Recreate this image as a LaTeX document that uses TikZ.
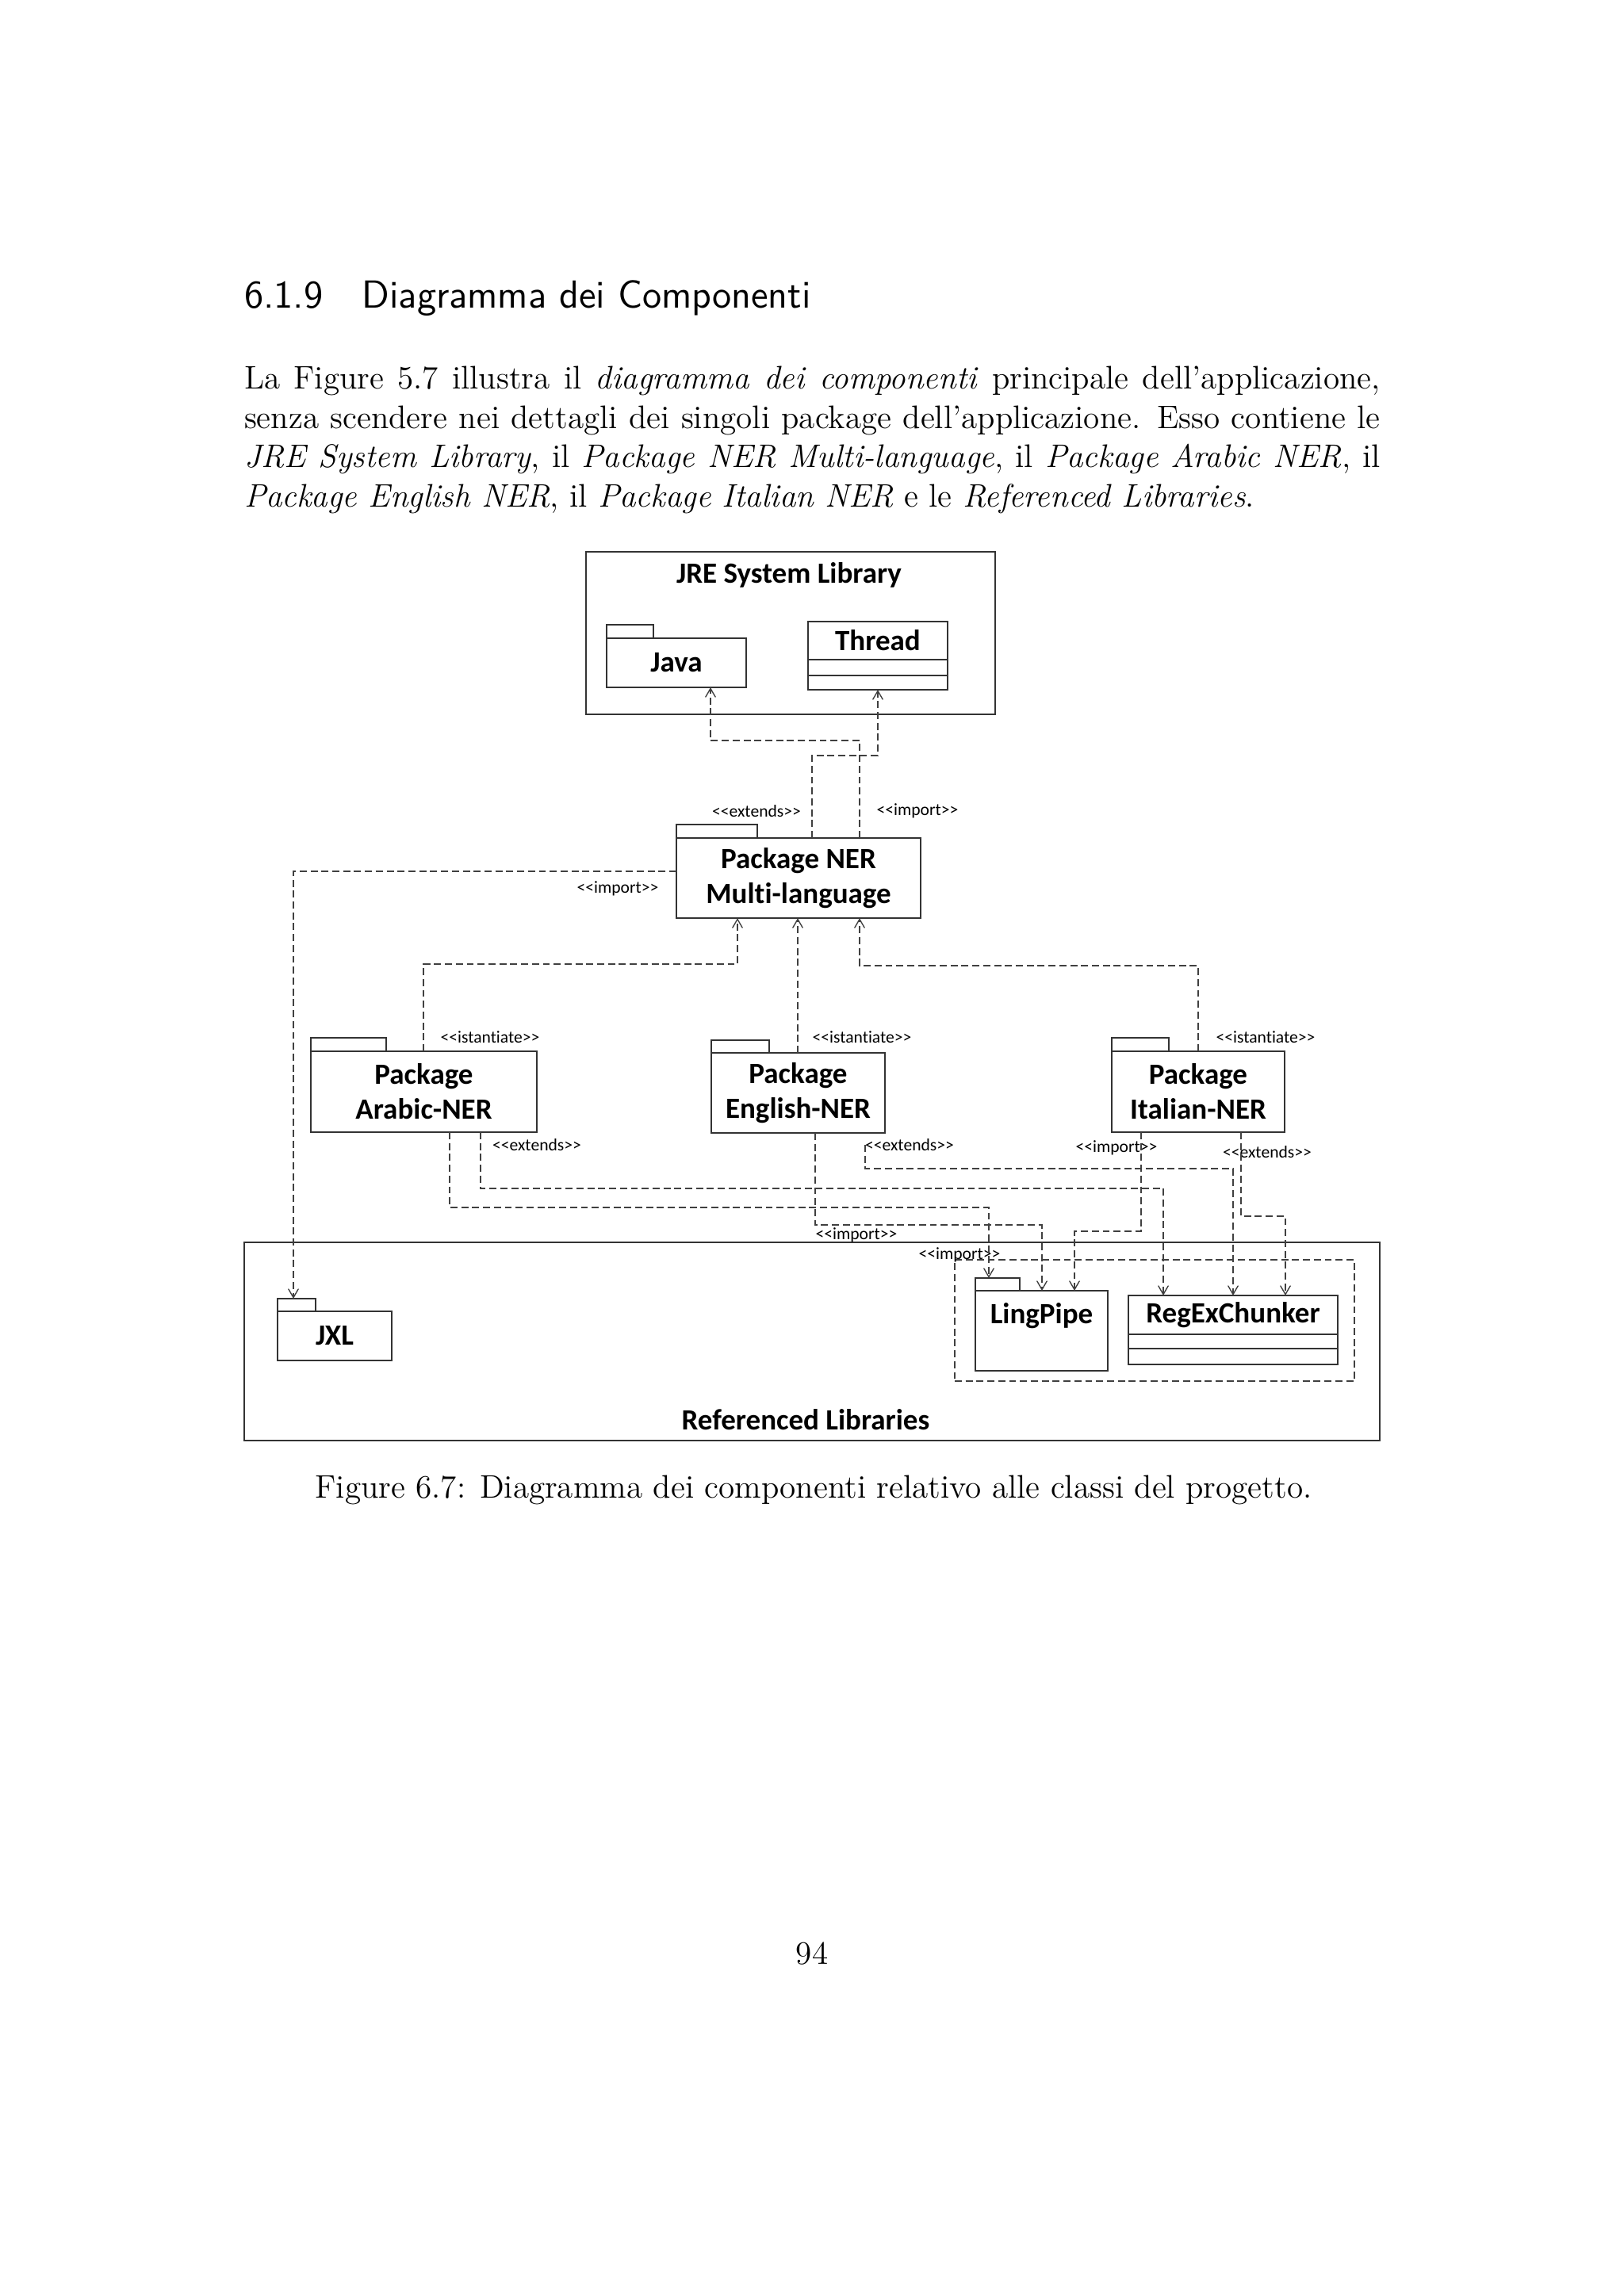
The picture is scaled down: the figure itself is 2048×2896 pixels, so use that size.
\documentclass[tikz,border=0pt]{standalone}
\usepackage{fontspec}
\newfontfamily\diafont{Carlito}[Ligatures=NoCommon]
\usetikzlibrary{positioning,shapes,arrows}
\newcommand{\pxu}{0.10254mm}
\newcommand{\stype}[1]{<\kern0pt<#1>\kern0pt>}

\begin{document}
\begin{tikzpicture}[x=0.10254mm, y=-0.10254mm,
  every node/.style = {outer sep=0pt},
  pkgbox/.style = {draw=black!80, line width=0.6pt, inner sep=0pt, align=center,
                   font=\diafont\bfseries\fontsize{10.8}{12.8}\selectfont},
  tabbox/.style = {draw=black!80, line width=0.6pt, inner sep=0pt, anchor=south west, minimum height=17*\pxu},
  libbox/.style = {draw=black!80, line width=0.6pt, inner sep=0pt},
  stereo/.style = {inner sep=0pt, font=\diafont\fontsize{6.3}{7}\selectfont},
  dep/.style = {draw=black!75, line width=0.4pt, dash pattern=on 2.6pt off 1.4pt, ->, >=angle 60},
  pagetext/.style = {inner sep=0pt, font=\fontsize{12}{14.5}\selectfont}]
\fill[white] (0,0) rectangle (2048,2896);
\useasboundingbox (0,0) rectangle (2048,2896);

% page text
\node[anchor=base west, inner sep=0pt, font=\sffamily\fontsize{14.4}{18}\selectfont] (heading) at (308,388) {6.1.9\quad Diagramma dei Componenti};
\node[pagetext, anchor=north west, text width=418pt, align=justify] (intro) at (308,462)
  {\noindent La Figure 5.7 illustra il \textit{diagramma dei componenti} principale dell'applicazione, senza scendere nei dettagli dei singoli package dell'applicazione. Esso contiene le \textit{JRE System Library}, il \textit{Package NER Multi-language}, il \textit{Package Arabic NER}, il \textit{Package English NER}, il \textit{Package Italian NER} e le \textit{Referenced Libraries}.};

% containers
\node[libbox, minimum width=516*\pxu, minimum height=205*\pxu] (jre) at (997,798.5) {};
\node[pkgbox, draw=none] (jretitle) at (995,725) {JRE System Library};
\node[libbox, minimum width=1432*\pxu, minimum height=250*\pxu] (reflib) at (1024,1692) {};
\node[pkgbox, draw=none] (reftitle) at (1016,1791) {Referenced Libraries};
\node[libbox, draw=black!75, line width=0.5pt, dash pattern=on 2.6pt off 1.4pt, minimum width=504*\pxu, minimum height=153*\pxu] (libgroup) at (1456,1665.5) {};

% packages
\node[pkgbox, minimum width=176*\pxu, minimum height=62*\pxu] (java) at (853,836) {Java};
\node[tabbox, minimum width=59*\pxu] (javatab) at (java.north west) {};
\node[pkgbox, minimum width=308*\pxu, minimum height=101*\pxu] (ner) at (1007,1107.5) {Package NER\\Multi-language};
\node[tabbox, minimum width=102*\pxu] (nertab) at (ner.north west) {};
\node[pkgbox, minimum width=285*\pxu, minimum height=102*\pxu] (arabic) at (534.5,1377) {Package\\Arabic-NER};
\node[tabbox, minimum width=95*\pxu] (arabictab) at (arabic.north west) {};
\node[pkgbox, minimum width=219*\pxu, minimum height=101*\pxu] (english) at (1006.5,1378.5) {Package\\English-NER};
\node[tabbox, minimum width=73*\pxu, minimum height=16*\pxu] (englishtab) at (english.north west) {};
\node[pkgbox, minimum width=218*\pxu, minimum height=102*\pxu] (italian) at (1511,1377) {Package\\Italian-NER};
\node[tabbox, minimum width=72*\pxu] (italiantab) at (italian.north west) {};
\node[pkgbox, minimum width=144*\pxu, minimum height=62*\pxu] (jxl) at (422,1685) {JXL};
\node[tabbox, minimum width=48*\pxu, minimum height=16*\pxu] (jxltab) at (jxl.north west) {};
\node[pkgbox, minimum width=167*\pxu, inner ysep=0pt, text height=41*\pxu, text depth=60*\pxu] (ling) at (1313.5,1678.5) {LingPipe};
\node[tabbox, minimum width=56*\pxu, minimum height=16*\pxu] (lingtab) at (ling.north west) {};

% classes
\node[pkgbox, minimum width=176*\pxu, minimum height=48*\pxu] (thread) at (1107,808) {Thread};
\draw[draw=black!80, line width=0.6pt] (thread.south west) rectangle ++(176,20) rectangle ++(-176,18);
\coordinate (threadbot) at ([yshift=-38*\pxu]thread.south);
\node[pkgbox, minimum width=264*\pxu, minimum height=49*\pxu] (regex) at (1555,1658.5) {RegExChunker};
\draw[draw=black!80, line width=0.6pt] (regex.south west) rectangle ++(264,18) rectangle ++(-264,20);

% stereotypes
\node[stereo] (jreext) at (954,1023) {\stype{extends}};
\node[stereo] (jreimp) at (1157,1023) {\stype{import}};
\node[stereo] (jxlimp) at (779,1121) {\stype{import}};
\node[stereo] (arinst) at (618,1308) {\stype{istantiate}};
\node[stereo] (eninst) at (1087,1308) {\stype{istantiate}};
\node[stereo] (itinst) at (1596,1308) {\stype{istantiate}};
\node[stereo] (arext) at (677,1444) {\stype{extends}};
\node[stereo] (engext) at (1147,1444) {\stype{extends}};
\node[stereo] (itimp) at (1408,1448) {\stype{import}};
\node[stereo] (itext) at (1598,1453) {\stype{extends}};
\node[stereo] (enimp) at (1080,1558) {\stype{import}};
\node[stereo] (grpimp) at (1210,1583) {\stype{import}};

% dependencies
\draw[dep] (ner.north -| 1084,0) -- (1084,934) -- (896,934) -- (java.south -| 896,0);
\draw[dep] (ner.north -| 1024,0) -- (1024,953) -- (1107,953) -- (threadbot);
\draw[dep] (ner.west |- 0,1099) -- (370,1099) -- (jxltab.north -| 370,0);
\draw[dep] (arabic.north -| 534,0) -- (534,1216) -- (930,1216) -- (ner.south -| 930,0);
\draw[dep] (english.north -| 1006,0) -- (ner.south -| 1006,0);
\draw[dep] (italian.north) -- (italian.north |- 0,1218) -- (1084,1218) -- (ner.south -| 1084,0);
\draw[dep] (arabic.south -| 567,0) -- (567,1523) -- (1247,1523) -- (lingtab.north -| 1247,0);
\draw[dep] (arabic.south -| 606,0) -- (606,1499) -- (1467,1499) -- (regex.north -| 1467,0);
\draw[dep] (english.south -| 1028,0) -- (1028,1545) -- (1314,1545) -- (ling.north -| 1314,0);
\draw[dep] (engext.west) -- (engext.west |- 0,1474) -- (1555,1474) -- (regex.north);
\draw[dep] (italian.south -| 1439,0) -- (1439,1553) -- (1355,1553) -- (ling.north -| 1355,0);
\draw[dep] (italian.south -| 1565,0) -- (1565,1534) -- (1621,1534) -- (regex.north -| 1621,0);

% caption and page number
\node[pagetext, anchor=base] (caption) at (1026,1889) {Figure 6.7: Diagramma dei componenti relativo alle classi del progetto.};
\node[pagetext, anchor=base] (pagenum) at (1024,2477) {94};
\end{tikzpicture}
\end{document}
